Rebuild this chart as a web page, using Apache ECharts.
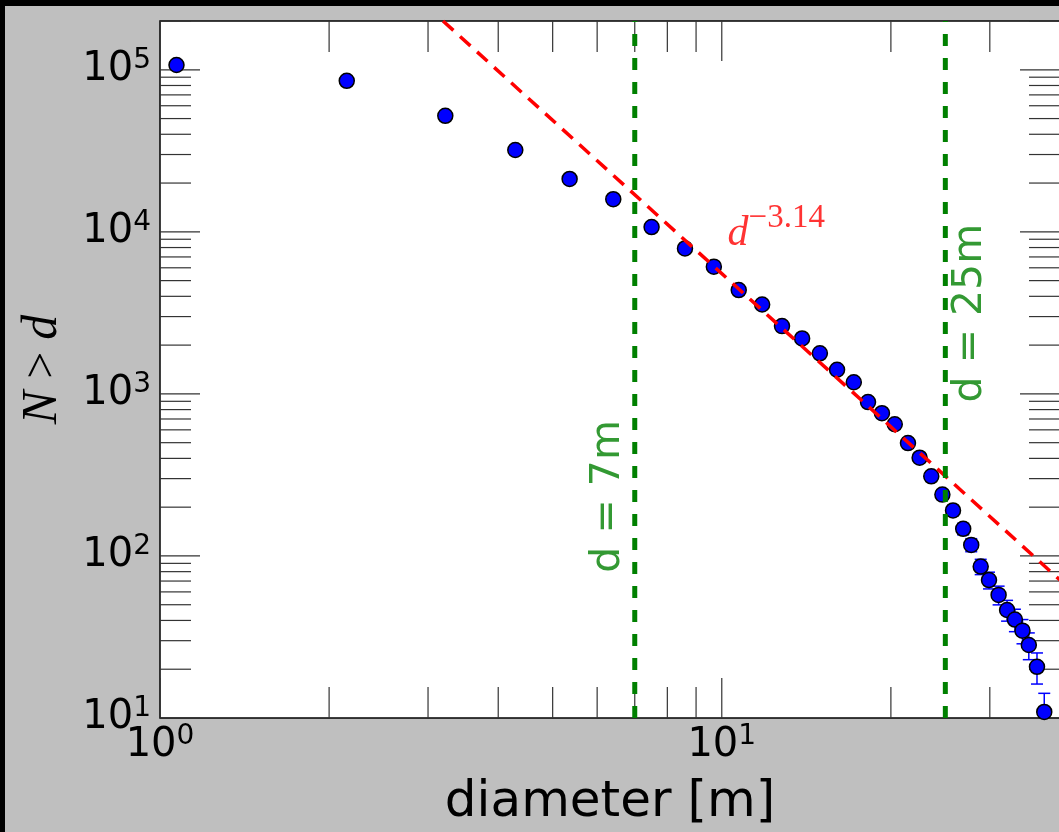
<!DOCTYPE html>
<html>
<head>
<meta charset="utf-8">
<title>N > d</title>
<script src="https://cdn.jsdelivr.net/npm/echarts@6/dist/echarts.min.js"></script>
<style>
html, body { margin: 0; padding: 0; background: #000; overflow: hidden; }
#chart { position: absolute; left: 5px; top: 6px; width: 1056px; height: 826px; }
</style>
</head>
<body>
<div id="chart"></div>
<script>
// crater counts: cumulative number N larger than diameter d
var diameters = [1.07, 2.15, 3.22, 4.29, 5.36, 6.41, 7.50, 8.60, 9.68, 10.72,
    11.8, 12.8, 13.9, 14.95, 16.04, 17.18, 18.21, 19.28, 20.32, 21.45,
    22.5, 23.6, 24.7, 25.8, 26.9, 27.8, 28.9, 29.9, 31.1, 32.2,
    33.25, 34.3, 35.2, 36.4, 37.5];
var counts = [107000, 85500, 52000, 32000, 21200, 15900, 10700, 7900, 6100, 4370,
    3560, 2620, 2200, 1780, 1410, 1180, 890, 760, 650, 497,
    404, 310, 239, 191, 147, 117, 86, 71, 57.5, 46.4,
    40.5, 34.6, 28.2, 20.7, 10.9];
var countErrors = [327, 292, 228, 179, 146, 126, 103, 89, 78, 66,
    60, 51, 47, 42, 37.5, 34, 29.8, 27.6, 25.5, 22.3,
    20, 17.6, 15.5, 13.8, 12.1, 10.8, 9.3, 8.4, 7.6, 6.8,
    6.4, 5.9, 5.3, 4.5, 3.3];

// power law fit d^-3.14, ends where it leaves the plot
var fitLine = [[3.19, 200000], [40, 71]];
var cutoffs = [7, 25];

var xMajorTicks = [1, 10];
var xMinorTicks = [2, 3, 4, 5, 6, 7, 8, 9, 20, 30, 40];
var yMajorTicks = [10, 100, 1000, 10000, 100000];
var yMinorTicks = [20, 30, 40, 50, 60, 70, 80, 90,
    200, 300, 400, 500, 600, 700, 800, 900,
    2000, 3000, 4000, 5000, 6000, 7000, 8000, 9000,
    20000, 30000, 40000, 50000, 60000, 70000, 80000, 90000, 200000];

var X_MIN = 1, X_MAX = 40, Y_MIN = 10, Y_MAX = 200000;

var dom = document.getElementById('chart');
var myChart = echarts.init(dom);

function powLabel(v) {
    var e = Math.round(Math.log10(v));
    if (Math.abs(v - Math.pow(10, e)) > 1e-6 * v) return '';
    return '{b|10}{e|' + e + '}';
}

var labelRich = {
    b: { fontSize: 40, fontFamily: 'DejaVu Sans', color: '#000', lineHeight: 46 },
    e: { fontSize: 28, fontFamily: 'DejaVu Sans', color: '#000', verticalAlign: 'top', lineHeight: 30 }
};

function tickSeries(values, isX, len) {
    return {
        type: 'custom',
        silent: true,
        z: 2,
        data: values.map(function (v) { return isX ? [v, Y_MIN] : [X_MIN, v]; }),
        renderItem: function (params, api) {
            var st = { stroke: '#333', lineWidth: 1.2 };
            var a, b;
            if (isX) {
                var x = api.value(0);
                a = api.coord([x, Y_MIN]);
                b = api.coord([x, Y_MAX]);
                return { type: 'group', children: [
                    { type: 'line', shape: { x1: a[0], y1: a[1], x2: a[0], y2: a[1] - len }, style: st },
                    { type: 'line', shape: { x1: b[0], y1: b[1], x2: b[0], y2: b[1] + len }, style: st }
                ] };
            }
            var y = api.value(1);
            a = api.coord([X_MIN, y]);
            b = api.coord([X_MAX, y]);
            return { type: 'group', children: [
                { type: 'line', shape: { x1: a[0], y1: a[1], x2: a[0] + len, y2: a[1] }, style: st },
                { type: 'line', shape: { x1: b[0], y1: b[1], x2: b[0] - len, y2: b[1] }, style: st }
            ] };
        }
    };
}

var option = {
    backgroundColor: '#bfbfbf',
    animation: false,
    grid: {
        left: 155, right: 1, top: 15, bottom: 114,
        show: true, backgroundColor: '#fff', borderColor: '#000', borderWidth: 1.5,
        outerBoundsMode: 'none'
    },
    xAxis: {
        type: 'log', logBase: 10, min: X_MIN, max: X_MAX,
        axisLine: { show: false }, axisTick: { show: false }, splitLine: { show: false },
        axisLabel: { margin: 5, formatter: powLabel, rich: labelRich },
        name: 'diameter [m]', nameLocation: 'middle', nameGap: 60, nameMoveOverlap: false,
        nameTextStyle: { fontSize: 50, fontFamily: 'DejaVu Sans', color: '#000' }
    },
    yAxis: {
        type: 'log', logBase: 10, min: Y_MIN, max: Y_MAX,
        axisLine: { show: false }, axisTick: { show: false }, splitLine: { show: false },
        axisLabel: { margin: 9, formatter: powLabel, rich: labelRich },
        name: '{i|N} > {i|d}', nameLocation: 'middle', nameGap: 92, nameMoveOverlap: false,
        nameTextStyle: {
            fontSize: 48, fontFamily: 'Liberation Serif', color: '#000',
            rich: { i: { fontSize: 50, fontFamily: 'Liberation Serif', fontStyle: 'italic', color: '#000' } }
        }
    },
    series: [
        tickSeries(xMajorTicks, true, 40),
        tickSeries(xMinorTicks, true, 31),
        tickSeries(yMajorTicks, false, 40),
        tickSeries(yMinorTicks, false, 31),
        {
            name: 'errors',
            type: 'custom',
            clip: true,
            z: 3,
            data: diameters.map(function (d, i) {
                return [d, counts[i] - countErrors[i], counts[i] + countErrors[i]];
            }),
            encode: { x: 0, y: [1, 2] },
            renderItem: function (params, api) {
                var lo = api.coord([api.value(0), api.value(1)]);
                var hi = api.coord([api.value(0), api.value(2)]);
                var st = { stroke: '#0000ff', lineWidth: 1.5 };
                var w = 6;
                return { type: 'group', children: [
                    { type: 'line', shape: { x1: lo[0], y1: lo[1], x2: hi[0], y2: hi[1] }, style: st },
                    { type: 'line', shape: { x1: lo[0] - w, y1: lo[1], x2: lo[0] + w, y2: lo[1] }, style: st },
                    { type: 'line', shape: { x1: hi[0] - w, y1: hi[1], x2: hi[0] + w, y2: hi[1] }, style: st }
                ] };
            }
        },
        {
            name: 'N > d',
            type: 'scatter',
            z: 4,
            symbolSize: 15,
            itemStyle: { color: '#0000ff', borderColor: '#000', borderWidth: 1.5, opacity: 1 },
            data: diameters.map(function (d, i) { return [d, counts[i]]; })
        },
        {
            name: 'fit',
            type: 'line',
            z: 5,
            symbol: 'none',
            lineStyle: { color: '#ff0000', width: 3.5, type: [14, 9] },
            data: fitLine
        },
        {
            name: 'cut 7',
            type: 'line',
            z: 6,
            symbol: 'none',
            lineStyle: { color: '#008000', width: 5, type: [12, 12] },
            data: [[cutoffs[0], Y_MIN], [cutoffs[0], Y_MAX]]
        },
        {
            name: 'cut 25',
            type: 'line',
            z: 6,
            symbol: 'none',
            lineStyle: { color: '#008000', width: 5, type: [12, 12] },
            data: [[cutoffs[1], Y_MIN], [cutoffs[1], Y_MAX]]
        },
        {
            name: 'notes',
            type: 'scatter',
            z: 7,
            silent: true,
            symbolSize: 1,
            itemStyle: { color: 'rgba(0,0,0,0)' },
            label: {
                show: true, position: 'inside',
                color: '#008000', fontSize: 41, fontFamily: 'DejaVu Sans'
            },
            data: [
                { value: [6.29, 233], label: { formatter: 'd = ' + cutoffs[0] + 'm', rotate: 90 } },
                { value: [27.7, 3150], label: { formatter: 'd = ' + cutoffs[1] + 'm', rotate: 90 } },
                {
                    value: [12.5, 9720],
                    label: {
                        formatter: '{d|d}{e|\u22123.14}',
                        rich: {
                            d: { fontSize: 42, fontFamily: 'Liberation Serif', fontStyle: 'italic', color: '#ff0000', lineHeight: 64 },
                            e: { fontSize: 33, fontFamily: 'Liberation Serif', color: '#ff0000', verticalAlign: 'top', lineHeight: 34 }
                        }
                    }
                }
            ]
        }
    ]
};

if (option && typeof option === 'object') {
    myChart.setOption(option, true);
}
</script>
</body>
</html>
